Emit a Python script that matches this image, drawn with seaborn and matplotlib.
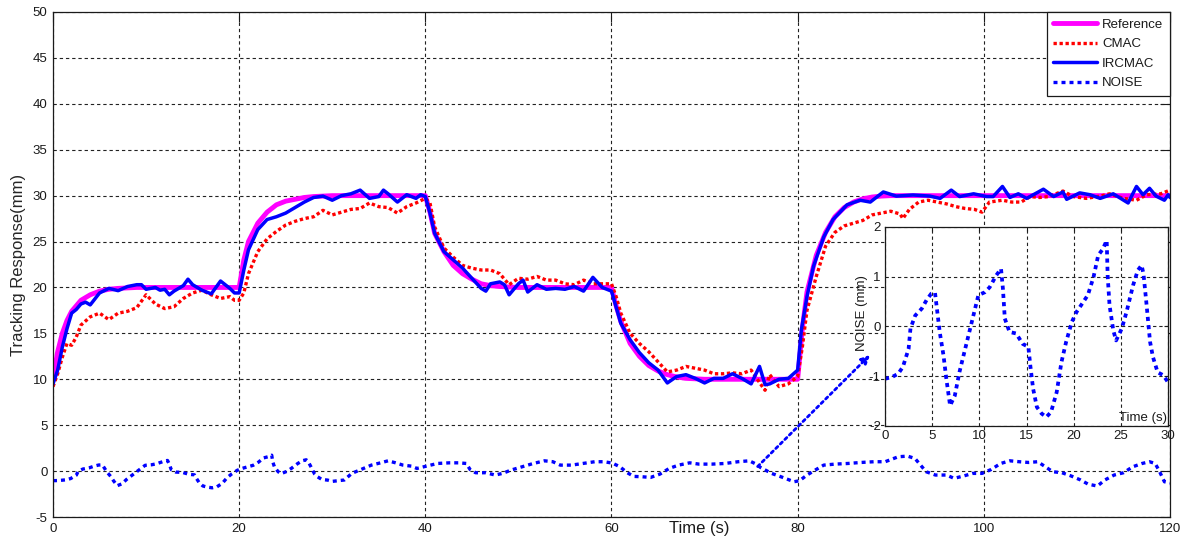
import matplotlib
matplotlib.use("Agg")
import matplotlib.pyplot as plt
import seaborn as sns

# ---------------- data ----------------
# Reference trajectory (mm)
ref_time = [0, 0.5, 1, 1.5, 2, 3, 4, 5, 6, 7, 8, 9, 10, 20,
            20.5, 21, 22, 23, 24, 25, 26, 27, 28, 29, 30, 40,
            40.5, 41, 42, 43, 44, 45, 46, 47, 48, 49, 50, 60,
            60.5, 61, 62, 63, 64, 65, 66, 67, 68, 69, 70, 80,
            80.5, 81, 82, 83, 84, 85, 86, 87, 88, 89, 90, 120]
ref_mm = [10, 13.0, 15.0, 16.4, 17.4, 18.6, 19.2, 19.6, 19.8, 19.9, 19.95, 20, 20, 20,
          23.0, 25.0, 27.0, 28.2, 29.0, 29.4, 29.6, 29.8, 29.9, 29.95, 30, 30,
          28.2, 25.9, 23.9, 22.4, 21.5, 20.9, 20.4, 20.2, 20.1, 20.05, 20, 20,
          18.0, 16.3, 13.9, 12.5, 11.5, 10.9, 10.5, 10.25, 10.1, 10.05, 10, 10,
          15.5, 19.5, 23.5, 26.0, 27.7, 28.7, 29.3, 29.65, 29.85, 29.95, 30, 30]

# CMAC controller response (mm)
cmac_time = [0, 0.5, 1, 1.5, 2, 2.5, 3, 4, 5, 6, 7, 8, 9, 10, 11, 12, 13, 14, 15, 16, 17, 18, 19, 19.5, 20,
             20.5, 21, 22, 23, 24, 25, 26, 27, 28, 29, 30, 31, 32, 33, 34, 35, 36, 37, 38, 39, 40,
             40.5, 41, 42, 43, 44, 45, 46, 47, 48, 49, 50, 51, 52, 53, 54, 55, 56, 57, 58, 59, 60,
             60.5, 61, 62, 63, 64, 65, 66, 67, 68, 69, 70, 71, 72, 73, 74, 75, 76, 76.5, 77, 78, 79, 80,
             80.5, 81, 82, 83, 84, 85, 86, 87, 88, 89, 90, 91, 91.3, 92, 93, 94, 95, 96, 97, 98, 99,
             99.8, 100.6, 102, 103, 104, 105, 106, 107, 108.5, 109.6, 111, 112.5, 113.5, 115, 116.4,
             117.5, 119, 120]
cmac_mm = [9.2, 10.6, 12.4, 13.9, 13.7, 14.6, 15.9, 16.8, 17.2, 16.5, 17.2, 17.4, 17.8, 19.2, 18.2, 17.7,
           17.9, 18.8, 19.4, 19.7, 19.2, 18.8, 19.0, 18.6, 18.6,
           19.4, 21.5, 23.9, 25.3, 26.1, 26.8, 27.2, 27.5, 27.7, 28.4, 27.9, 28.2, 28.5, 28.6, 29.2,
           28.8, 28.7, 28.1, 28.8, 29.2, 29.7,
           29.2, 26.6, 24.3, 23.3, 22.4, 22.1, 21.9, 21.9, 21.5, 20.3, 21.0, 20.9, 21.2, 20.8, 20.8,
           20.4, 20.3, 20.8, 20.4, 20.4, 20.4,
           19.0, 17.2, 15.0, 13.9, 13.0, 11.9, 10.8, 11.0, 11.4, 11.2, 11.0, 10.6, 10.6, 10.7, 10.6,
           11.0, 9.5, 8.8, 10.5, 9.2, 9.5, 10.3,
           13.5, 17.5, 21.2, 24.5, 26.0, 26.7, 27.0, 27.3, 27.9, 28.1, 28.3, 28.0, 27.5, 28.5, 29.3,
           29.5, 29.3, 29.1, 28.8, 28.6, 28.5,
           28.2, 29.3, 29.5, 29.3, 29.3, 29.9, 29.8, 29.9, 30.5, 29.9, 29.7, 29.95, 30.2, 29.7, 29.5,
           30.1, 30.2, 30.6]

# IRCMAC controller response (mm)
ircmac_time = [0, 0.5, 1, 1.5, 2, 2.5, 3, 3.5, 4, 5, 6, 7, 8, 9, 9.5, 10, 11, 11.5, 12, 12.5, 13, 14, 14.5,
               15, 16, 17, 18, 19, 19.5, 20,
               20.5, 21, 22, 23, 24, 25, 26, 27, 28, 29, 30, 31, 32, 33, 34, 35, 35.5, 36, 37, 38, 39,
               39.5, 40,
               40.5, 41, 42, 43, 44, 45, 46, 46.5, 47, 48, 48.5, 49, 50, 50.5, 51, 52, 53, 54, 55, 56,
               57, 58, 59, 60,
               61, 62, 63, 64, 65, 66, 67, 68, 69, 70, 71, 72, 73, 74, 75, 75.9, 76.5, 77, 78, 79, 80,
               80.4, 81, 81.7, 82.8, 83.8, 85.3, 86.7, 87.8, 89.2, 90.6, 92.4, 94.2, 95.3, 96.5, 97.4,
               98.9, 100.3, 101, 102, 102.8, 103.7, 104.6, 106.4, 107.5, 108.5, 108.9, 110.3, 111.4,
               112.5, 113.9, 115.5, 116.4, 117.1, 117.8, 118.5, 119.4, 119.8, 120]
ircmac_mm = [9.5, 11.0, 13.5, 15.5, 17.2, 17.6, 18.2, 18.4, 18.1, 19.4, 19.9, 19.65, 20.1, 20.3, 20.3,
             19.8, 20.0, 19.7, 19.8, 19.2, 19.6, 20.2, 20.9, 20.3, 19.7, 19.3, 20.7, 19.9, 19.4, 19.4,
             21.9, 24.1, 26.3, 27.4, 27.7, 28.1, 28.7, 29.3, 29.8, 29.95, 29.5, 30.0, 30.2, 30.6, 29.7,
             29.9, 30.6, 30.2, 29.3, 30.1, 29.7, 30.1, 29.9,
             28.1, 25.9, 23.9, 23.0, 22.1, 21.0, 19.9, 19.6, 20.4, 20.6, 20.3, 19.2, 20.4, 20.8, 19.5,
             20.3, 19.8, 19.9, 19.8, 20.1, 19.6, 21.1, 20.0, 19.6,
             16.1, 14.3, 12.9, 11.8, 11.0, 9.6, 10.3, 10.5, 10.1, 9.6, 10.1, 10.1, 10.6, 10.1, 9.5,
             11.4, 9.4, 9.5, 10.0, 10.1, 11.0,
             15.4, 19.0, 22.3, 25.5, 27.4, 29.0, 29.5, 29.3, 30.4, 29.95, 30.07, 29.95, 29.7, 30.6,
             29.9, 30.2, 29.9, 29.9, 31.0, 29.8, 30.2, 29.7, 30.7, 29.9, 30.4, 29.6, 30.3, 30.1,
             29.7, 30.2, 29.2, 31.0, 30.1, 30.8, 29.95, 29.5, 30.1, 29.8]

# Measurement noise (mm)
noise_time = [0, 0.7, 1.4, 1.9, 2.5, 2.7, 3.2, 3.9, 4.4, 4.9, 5.3, 5.5, 5.8, 6.2, 6.5, 6.9, 7.4, 7.9,
              8.5, 9.2, 9.9, 10.6, 11.1, 11.8, 12.3, 12.5, 12.7, 13.2, 13.9, 14.6, 15.2, 15.4, 15.7,
              16.1, 16.6, 17.1, 17.6, 18.2, 18.7, 19.2, 19.8, 20.3, 21.0, 21.5, 22.1, 22.6, 23.1,
              23.5, 23.6, 23.8, 24.2, 24.5, 25.1, 25.6, 26.3, 26.8, 27.2, 27.4, 27.7, 28.1, 28.4,
              28.9, 29.5, 30.0, 31.3, 32.1, 33.1, 34.2, 35.2, 36.0, 36.8, 37.6, 38.5, 39.1, 40.1,
              41.3, 42.6, 43.6, 44.4, 44.8, 45.4, 46.5, 47.5, 48.3, 49.2, 50.4, 51.6, 52.8, 53.7,
              54.5, 55.7, 56.9, 58.2, 59.2, 60.1, 60.9, 61.7, 62.4, 63.2, 64.2, 65.2, 66.2, 67.2,
              68.4, 69.4, 70.8, 72.2, 73.6, 74.8, 75.4, 76.0, 77.2, 78.4, 79.6, 80.2, 81.0, 82.0,
              82.8, 84.0, 85.4, 86.8, 88.2, 89.4, 90.8, 91.8, 92.6, 93.2, 93.8, 94.8, 96.0, 96.8,
              97.8, 98.8, 99.8, 100.8, 101.8, 102.8, 103.8, 104.8, 105.8, 106.6, 107.4, 108.4,
              109.4, 110.4, 111.2, 112.2, 113.0, 114.0, 115.0, 116.0, 117.0, 117.8, 118.4, 118.8,
              119.4, 120]
noise_mm = [-1.05, -1.02, -0.95, -0.81, -0.45, -0.04, 0.22, 0.36, 0.53, 0.66, 0.68, 0.36, -0.11, -0.58,
            -1.05, -1.59, -1.39, -0.91, -0.45, 0.09, 0.63, 0.69, 0.79, 1.03, 1.16, 0.76, 0.16, -0.11,
            -0.14, -0.35, -0.41, -0.78, -1.25, -1.62, -1.75, -1.82, -1.72, -1.32, -0.72, -0.31, 0.09,
            0.29, 0.49, 0.63, 0.99, 1.43, 1.56, 1.73, 1.03, 0.43, -0.08, -0.28, -0.04, 0.29, 0.83,
            1.13, 1.23, 1.06, 0.49, -0.31, -0.61, -0.92, -0.98, -1.12, -0.97, -0.25, 0.18, 0.65,
            0.90, 1.12, 0.90, 0.65, 0.54, 0.29, 0.54, 0.83, 0.90, 0.90, 0.83, 0.18, -0.18, -0.18,
            -0.43, -0.25, 0.11, 0.47, 0.83, 1.12, 1.02, 0.65, 0.65, 0.83, 1.02, 1.02, 0.87, 0.47,
            -0.18, -0.58, -0.61, -0.69, -0.33, 0.29, 0.65, 0.90, 0.76, 0.76, 0.83, 1.02, 1.12, 0.83,
            0.40, -0.25, -0.69, -1.16, -1.05, -0.43, 0.18, 0.65, 0.76, 0.83, 0.94, 1.02, 1.02, 1.56,
            1.63, 1.38, 0.65, -0.07, -0.43, -0.43, -0.79, -0.54, -0.25, -0.25, 0.18, 0.83, 1.12,
            1.02, 0.94, 1.02, 0.47, -0.07, -0.18, -0.54, -0.97, -1.42, -1.63, -0.97, -0.43, -0.18,
            0.47, 0.83, 1.02, 0.83, 0.11, -1.16, -1.3]

x_ticks = [0, 20, 40, 60, 80, 100, 120]
y_ticks = [-5, 0, 5, 10, 15, 20, 25, 30, 35, 40, 45, 50]
inset_x_ticks = [0, 5, 10, 15, 20, 25, 30]
inset_y_ticks = [-2, -1, 0, 1, 2]

# ---------------- style ----------------
sns.set_theme(style="white")
plt.rcParams["font.family"] = ["Liberation Sans", "DejaVu Sans"]
plt.rcParams["axes.unicode_minus"] = False
plt.rcParams["text.color"] = "#1a1a1a"

MAGENTA = "#FF00FF"
RED = "#FF0000"
BLUE = "#0000FF"
grid_kw = dict(color="#222222", linestyle=(0, (3, 2.6)), linewidth=0.8)

fig = plt.figure(figsize=(11.88, 5.41), dpi=100)
ax = fig.add_axes([0.04461, 0.04436, 0.94024, 0.93346])

sns.lineplot(x=ref_time, y=ref_mm, ax=ax, color=MAGENTA, linewidth=3.5,
             label="Reference", estimator=None, sort=False)
sns.lineplot(x=cmac_time, y=cmac_mm, ax=ax, color=RED, linewidth=2.4,
             linestyle=(0, (1.0, 0.8)), label="CMAC", estimator=None, sort=False)
sns.lineplot(x=ircmac_time, y=ircmac_mm, ax=ax, color=BLUE, linewidth=2.5,
             label="IRCMAC", estimator=None, sort=False)
sns.lineplot(x=noise_time, y=noise_mm, ax=ax, color=BLUE, linewidth=2.4,
             linestyle=(0, (1.2, 1.2)), label="NOISE", estimator=None, sort=False)

ax.set_xlim(0, 120)
ax.set_ylim(-5, 50)
ax.set_xticks(x_ticks)
ax.set_yticks(y_ticks)
ax.set_axisbelow(True)
ax.grid(True, **grid_kw)
ax.tick_params(direction="in", length=7, width=0.8, colors="#1a1a1a",
               labelsize=9.5, top=True, right=True, pad=4)
for sp in ax.spines.values():
    sp.set_color("#1a1a1a")
    sp.set_linewidth(0.9)
ax.set_xlabel("")
ax.set_ylabel("Tracking Response(mm)", fontsize=12, labelpad=5)
ax.text(0.579, -0.022, "Time (s)", transform=ax.transAxes,
        ha="center", va="center", fontsize=12)

leg = ax.legend(loc="upper right", borderaxespad=0, fontsize=9.5, handlelength=3.3,
                handletextpad=0.4, labelspacing=0.55, borderpad=0.5,
                fancybox=False, framealpha=1, edgecolor="#1a1a1a")
leg.get_frame().set_linewidth(0.9)

# pointer from the noise trace to the zoomed view
ax.annotate("", xy=(0.7323, 0.3438), xycoords="figure fraction",
            xytext=(75.7, 0.5), textcoords="data",
            arrowprops=dict(arrowstyle="-|>", color=BLUE, lw=2.0,
                            linestyle=(0, (1, 1.3)), mutation_scale=12,
                            shrinkA=0, shrinkB=0))

# zoomed view of the noise over the first 30 s
axin = fig.add_axes([0.74495, 0.21257, 0.23822, 0.36784])
axin.set_facecolor("white")
sns.lineplot(x=noise_time, y=noise_mm, ax=axin, color=BLUE, linewidth=2.7,
             linestyle=(0, (1.1, 1.1)), estimator=None, sort=False, legend=False)
axin.set_xlim(0, 30)
axin.set_ylim(-2, 2)
axin.set_xticks(inset_x_ticks)
axin.set_yticks(inset_y_ticks)
axin.set_axisbelow(True)
axin.grid(True, **grid_kw)
axin.tick_params(direction="in", length=3, width=0.8, colors="#1a1a1a",
                 labelsize=9.5, top=True, right=True, pad=3)
for sp in axin.spines.values():
    sp.set_color("#1a1a1a")
    sp.set_linewidth(0.9)
axin.set_xlabel("")
axin.set_ylabel("")
axin.text(-0.08, 0.57, "NOISE (mm)", transform=axin.transAxes, rotation=90,
          ha="center", va="center", fontsize=9.5)
axin.text(0.995, 0.01, "Time (s)", transform=axin.transAxes,
          ha="right", va="bottom", fontsize=9.5)

fig.savefig("out.png", dpi=100)
